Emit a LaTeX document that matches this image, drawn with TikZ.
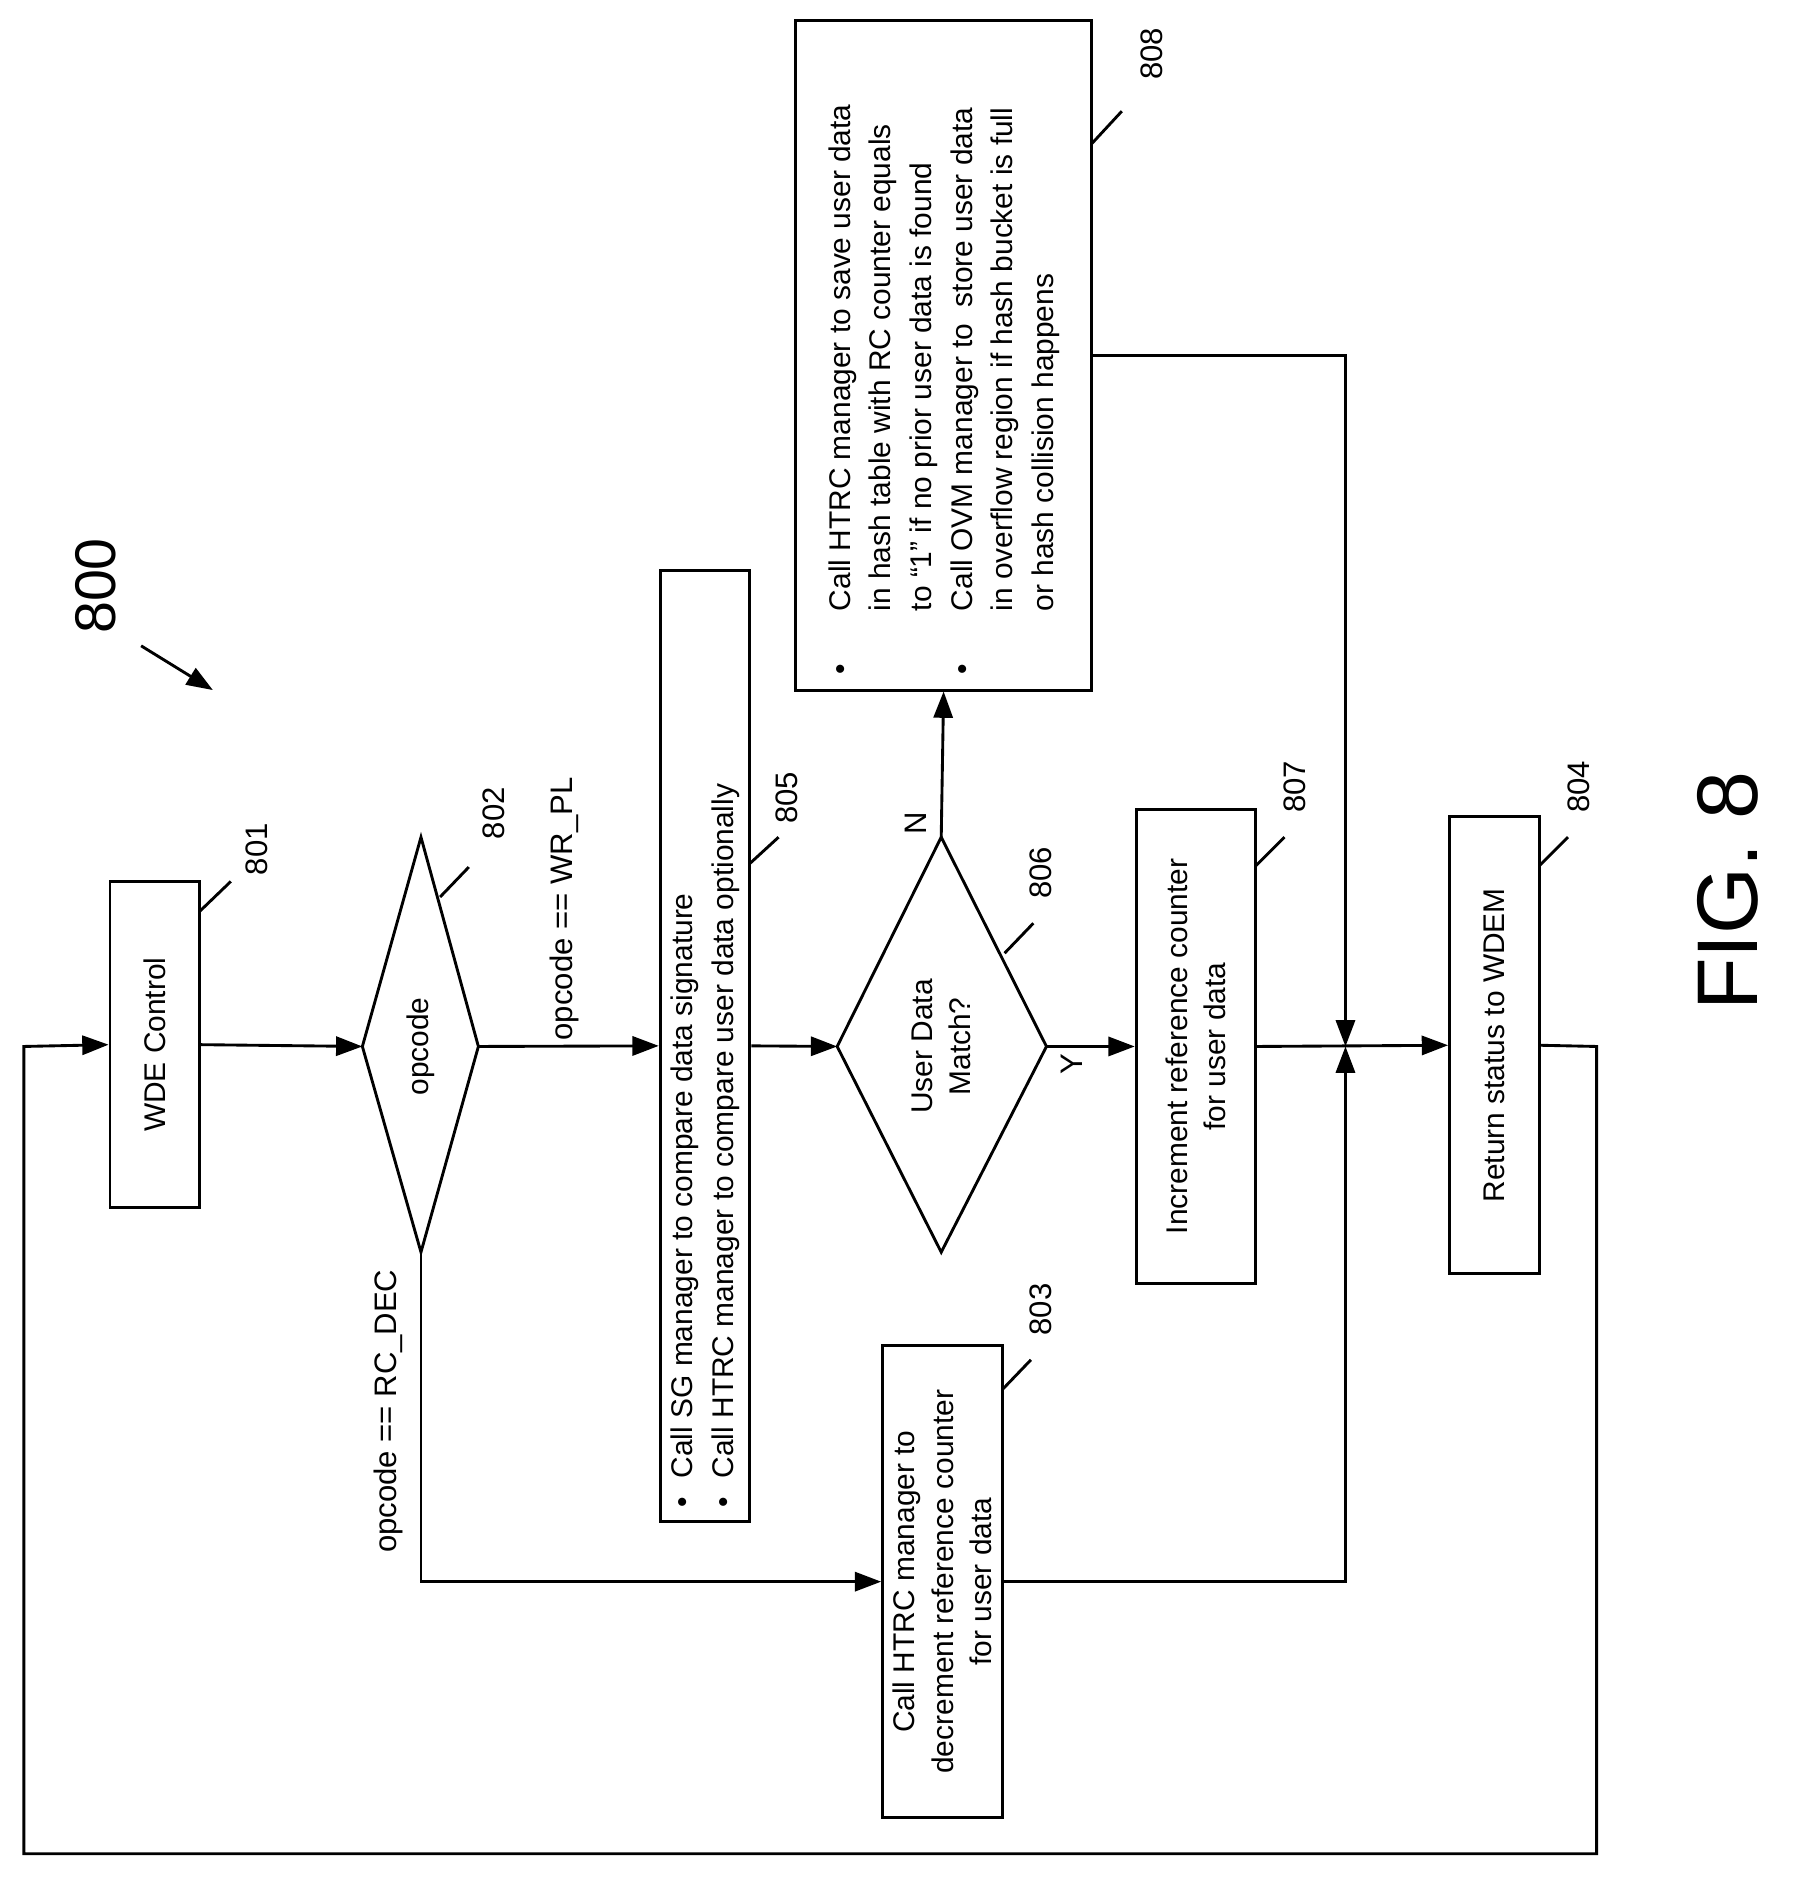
\documentclass[tikz,border=0pt]{standalone}
\usepackage{fontspec}
\setmainfont{Liberation Sans}
\usetikzlibrary{arrows.meta}
\begin{document}
\begin{tikzpicture}[x=0.5pt,y=-0.5pt,line width=1.2pt,
  box/.style={draw,rotate=90,inner sep=0pt,font=\fontsize{12.5}{16}\selectfont,align=center},
  lbl/.style={rotate=90,font=\fontsize{13}{16}\selectfont},
  arr/.style={-{Triangle[length=11pt,width=8pt]}},
  txt/.style={rotate=90,font=\fontsize{12.5}{17}\selectfont,align=left,inner sep=0pt}]
\useasboundingbox (0,0) rectangle (1500,1582);
% boxes
\node[box,minimum width=136.5pt,minimum height=37.5pt] (b801) at (129.5,873.5) {WDE Control};
\node[box,minimum width=397.5pt,minimum height=37.5pt] (b805) at (589.5,874.5) {};
\node[txt,anchor=west] (t805) at (589.5,1262) {\begin{tabular}{@{}l@{\hspace{8pt}}l@{}}\textbullet & Call SG manager to compare data signature\\ \textbullet & Call HTRC manager to compare user data optionally\end{tabular}};
\node[box,minimum width=198pt,minimum height=50pt] (b807) at (1000,875) {Increment reference counter\\for user data};
\node[box,minimum width=280pt,minimum height=124pt] (b808) at (789,297) {};
\node[txt,anchor=west] (t808) at (789,565) {\begin{tabular}{@{}l@{\hspace{22pt}}l@{}}\textbullet & Call HTRC manager to save user data\\ & in hash table with RC counter equals\\ & to ``1'' if no prior user data is found\\ \textbullet & Call OVM manager to \ store user data\\ & in overflow region if hash bucket is full\\ & or hash collision happens\end{tabular}};
\node[box,minimum width=191pt,minimum height=37.5pt] (b804) at (1249.5,874) {Return status to WDEM};
\node[box,minimum width=197.5pt,minimum height=50pt] (b803) at (788,1322.5) {Call HTRC manager to\\decrement reference counter\\for user data};
% diamonds
\coordinate (d2l) at (303,875); \coordinate (d2r) at (400,875);
\coordinate (d2t) at (352,700); \coordinate (d2b) at (352,1047);
\draw (d2l)--(d2t)--(d2r)--(d2b)--cycle;
\node[box,draw=none] (t802) at (352,875) {opcode};
\coordinate (d6l) at (700,875); \coordinate (d6r) at (875,875);
\coordinate (d6t) at (787,700); \coordinate (d6b) at (787,1047);
\draw (d6l)--(d6t)--(d6r)--(d6b)--cycle;
\node[box,draw=none] (t806) at (787,875) {User Data\\Match?};
% connectors
\draw[arr] (b801.south) -- (d2l);
\draw[arr] (d2r) -- (b805.north);
\draw[arr] (b805.south) -- (d6l);
\draw[arr] (d6r) -- (b807.north);
\draw[arr] (d6t) -- (b808.west);
\coordinate (j) at (1125,875);
\coordinate (jt) at (1125,297);
\coordinate (jb) at (1125,1322.5);
\draw[arr] (b808.south |- jt) -- (jt) -- (j);
\draw[arr] (b803.south) -- (jb) -- (j);
\draw[arr] (b807.south) -- (b804.north);
\coordinate (f1) at (1335,875); \coordinate (f2) at (1335,1550);
\coordinate (f3) at (20,1550); \coordinate (f4) at (20,875);
\draw[arr] (b804.south) -- (f1) -- (f2) -- (f3) -- (f4) -- (b801.north);
\coordinate (c1) at (352,1322.5);
\draw[arr] (d2b) -- (c1) -- (b803.north);
% edge labels
\node[lbl] (lwr) at (472,760) {opcode == WR\_PL};
\node[lbl] (lrc) at (325,1180) {opcode == RC\_DEC};
\node[lbl] (ly) at (896,890) {Y};
\node[lbl] (ln) at (766,688) {N};
% reference numerals
\node[lbl] (n801) at (215,710) {801}; \draw (167,762)--(193,737);
\node[lbl] (n802) at (413,680) {802}; \draw (368,750)--(392,725);
\node[lbl] (n805) at (658,667) {805}; \draw (627,722)--(651,700);
\node[lbl] (n806) at (870,730) {806}; \draw (840,797)--(864,772);
\node[lbl] (n807) at (1083,658) {807}; \draw (1050,724)--(1074,700);
\node[lbl] (n804) at (1320,658) {804}; \draw (1287,724)--(1311,700);
\node[lbl] (n803) at (870,1095) {803}; \draw (838,1162)--(862,1137);
\node[lbl] (n808) at (963,45) {808}; \draw (913,120)--(938,93);
\node[rotate=90,font=\fontsize{24}{28}\selectfont] (n800) at (80,490) {800};
\draw[arr] (118,540) -- (178,577);
\node[rotate=90,font=\fontsize{36}{40}\selectfont] (fig) at (1445,745) {FIG. 8};
\end{tikzpicture}
\end{document}
